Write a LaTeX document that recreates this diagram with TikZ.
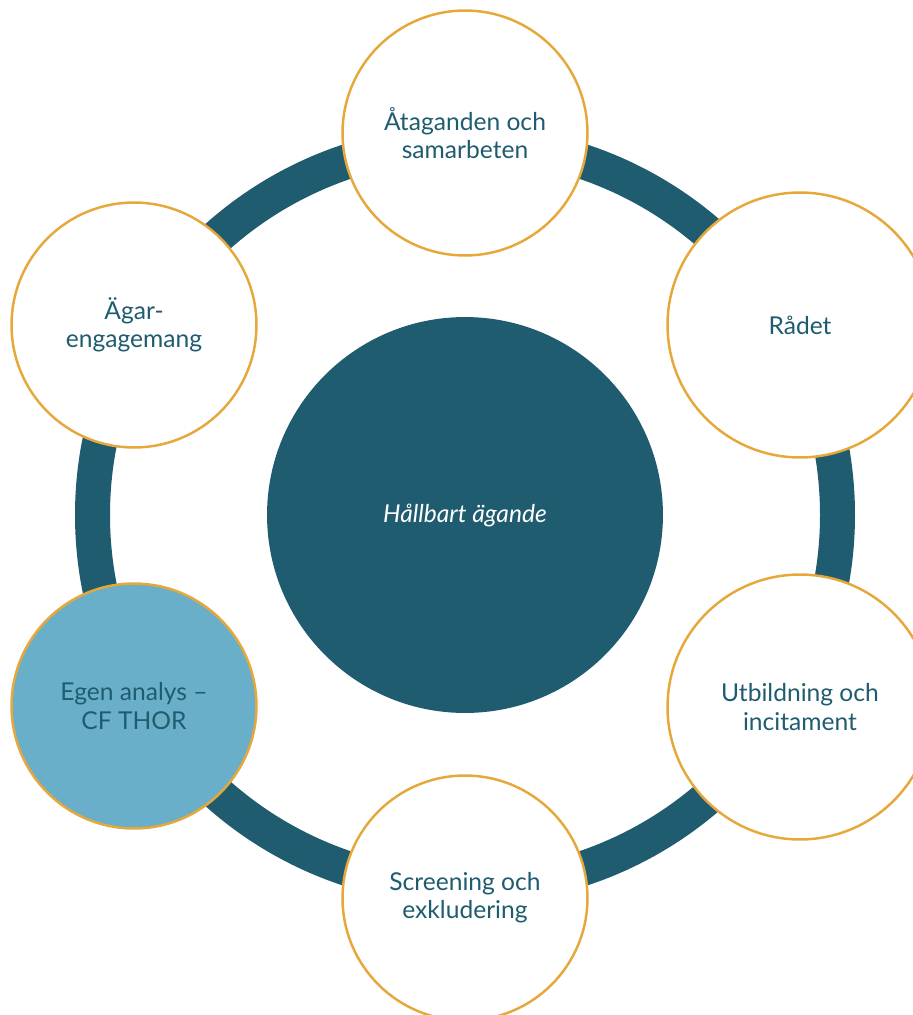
\documentclass[tikz,border=0pt]{standalone}
\usepackage{fontspec}
\setmainfont{Lato}
\definecolor{ringteal}{HTML}{1F5C6F}
\definecolor{rimorange}{HTML}{E6A83A}
\definecolor{paleblue}{HTML}{6AAFC9}
\begin{document}
\begin{tikzpicture}[x=0.02cm, y=-0.02cm,
        pillar/.style={circle, draw=rimorange, line width=1.4pt, fill=white,
            minimum size=4.9cm, inner sep=0pt, align=center,
            text=ringteal, font=\fontsize{14}{16}\selectfont},
        bigpillar/.style={pillar, minimum size=5.3cm}]
    \useasboundingbox (0,0) rectangle (913,1015);
    % outer ring
    \draw
        [ringteal, line width=0.7cm] (465,515) circle [radius=372.5];
    % core
    \node
        [circle, fill=ringteal, minimum size=7.92cm, text=white,
         font=\fontsize{14}{16}\selectfont\itshape] (core) at (465,515) {Hållbart ägande};
    % the six pillars
    \node
        [pillar] (atag) at (465,133) {Åtaganden och\\samarbeten};
    \node
        [bigpillar] (radet) at (800,325) {Rådet};
    \node
        [bigpillar] (utb) at (800,707) {Utbildning och\\incitament};
    \node
        [pillar] (scr) at (465,898) {Screening och\\exkludering};
    \node
        [pillar, fill=paleblue] (egen) at (134,706) {Egen analys –\\CF THOR};
    \node
        [pillar] (agar) at (134,325) {Ägar-\\engagemang};
\end{tikzpicture}
\end{document}
